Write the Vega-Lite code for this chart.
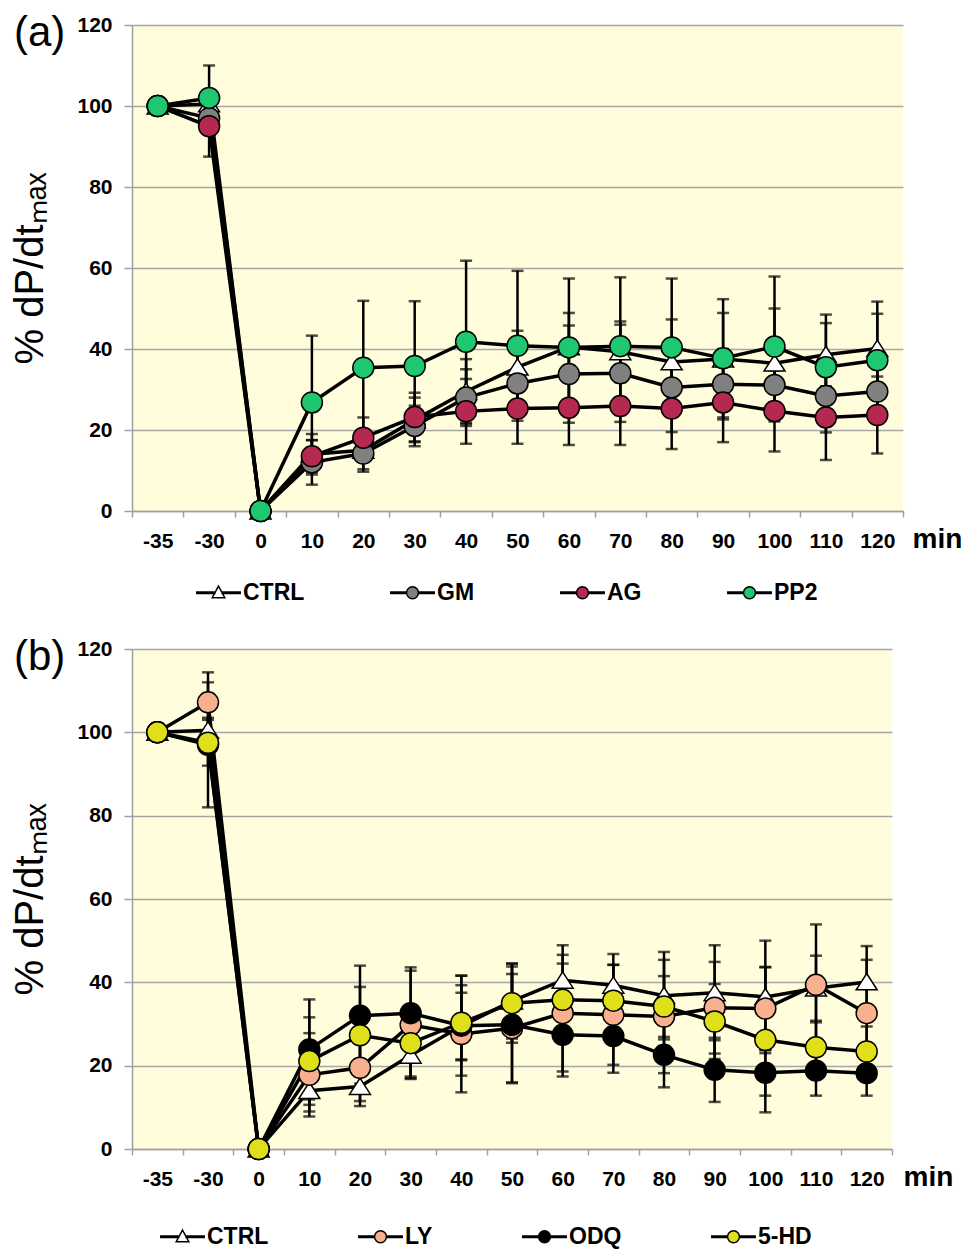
{
  "$schema": "https://vega.github.io/schema/vega-lite/v6.json",
  "padding": {"left": 10, "top": 12, "right": 0, "bottom": 0},
  "spacing": 31,
  "background": "white",
  "config": {
    "font": "Liberation Sans",
    "view": {"fill": "#FFFDDB", "stroke": null},
    "title": {"font": "Liberation Sans", "fontSize": 42, "fontWeight": "normal", "color": "black", "anchor": "start", "frame": "bounds", "baseline": "alphabetic", "offset": -41, "dx": 3},
    "legend": {"title": null, "orient": "none", "direction": "horizontal", "padding": 0, "symbolSize": 196, "labelOffset": 13, "labelFont": "Liberation Sans", "labelFontSize": 23, "labelFontWeight": "bold", "labelColor": "black", "symbolStrokeWidth": 1.5},
    "axisY": {"grid": true, "gridColor": "#a6a6a6", "gridWidth": 1.5, "domainColor": "#a0a0a0", "domainWidth": 1.5, "tickColor": "#a0a0a0", "tickSize": 8, "tickWidth": 1.5, "labelFont": "Liberation Sans", "labelFontSize": 21, "labelFontWeight": "bold", "labelColor": "black", "labelPadding": 12, "titleFont": "Liberation Sans", "titleFontSize": 40, "titleFontWeight": "normal", "titleColor": "black", "titlePadding": 26},
    "axisX": {"grid": false, "labelAngle": 0, "labelFont": "Liberation Sans", "labelFontSize": 21, "labelFontWeight": "bold", "labelColor": "black", "labelBaseline": "alphabetic", "labelPadding": 30, "tickBand": "extent", "tickColor": "#a0a0a0", "tickSize": 6, "tickWidth": 1.5, "domainColor": "#a0a0a0", "domainWidth": 1.5, "titleFont": "Liberation Sans", "titleFontSize": 28, "titleFontWeight": "bold", "titleColor": "black", "titleAngle": 0, "titleAlign": "center", "titleBaseline": "alphabetic", "titleY": 36}
  },
  "datasets": {
    "a": [
      {"s":"CTRL","t":-35,"v":100,"sd":0},{"s":"CTRL","t":-30,"v":100.5,"sd":3},{"s":"CTRL","t":0,"v":0,"sd":0},{"s":"CTRL","t":10,"v":14,"sd":5},{"s":"CTRL","t":20,"v":15,"sd":4.7},{"s":"CTRL","t":30,"v":22.5,"sd":5.5},{"s":"CTRL","t":40,"v":29.5,"sd":8},{"s":"CTRL","t":50,"v":35.5,"sd":9},{"s":"CTRL","t":60,"v":40.5,"sd":8.4},{"s":"CTRL","t":70,"v":39.3,"sd":7.5},{"s":"CTRL","t":80,"v":36.8,"sd":10.5},{"s":"CTRL","t":90,"v":37.5,"sd":11.4},{"s":"CTRL","t":100,"v":36.5,"sd":13.5},{"s":"CTRL","t":110,"v":38.6,"sd":7.8},{"s":"CTRL","t":120,"v":40.1,"sd":8.6},
      {"s":"GM","t":-35,"v":100,"sd":0},{"s":"GM","t":-30,"v":97,"sd":4},{"s":"GM","t":0,"v":0,"sd":0},{"s":"GM","t":10,"v":12,"sd":5.5},{"s":"GM","t":20,"v":14.2,"sd":4.5},{"s":"GM","t":30,"v":21,"sd":5},{"s":"GM","t":40,"v":28,"sd":7},{"s":"GM","t":50,"v":31.5,"sd":8},{"s":"GM","t":60,"v":33.8,"sd":12},{"s":"GM","t":70,"v":34,"sd":12},{"s":"GM","t":80,"v":30.5,"sd":11},{"s":"GM","t":90,"v":31.3,"sd":8.7},{"s":"GM","t":100,"v":31.1,"sd":9},{"s":"GM","t":110,"v":28.4,"sd":9},{"s":"GM","t":120,"v":29.5,"sd":7},
      {"s":"AG","t":-35,"v":100,"sd":0},{"s":"AG","t":-30,"v":95,"sd":7.5},{"s":"AG","t":0,"v":0,"sd":0},{"s":"AG","t":10,"v":13.5,"sd":4},{"s":"AG","t":20,"v":18.1,"sd":5},{"s":"AG","t":30,"v":23.2,"sd":6},{"s":"AG","t":40,"v":24.6,"sd":8},{"s":"AG","t":50,"v":25.3,"sd":8.7},{"s":"AG","t":60,"v":25.5,"sd":9.2},{"s":"AG","t":70,"v":25.9,"sd":9.6},{"s":"AG","t":80,"v":25.3,"sd":10},{"s":"AG","t":90,"v":26.8,"sd":9.8},{"s":"AG","t":100,"v":24.7,"sd":10},{"s":"AG","t":110,"v":23.1,"sd":10.5},{"s":"AG","t":120,"v":23.7,"sd":9.5},
      {"s":"PP2","t":-35,"v":100,"sd":0},{"s":"PP2","t":-30,"v":102,"sd":8},{"s":"PP2","t":0,"v":0,"sd":0},{"s":"PP2","t":10,"v":26.8,"sd":16.5},{"s":"PP2","t":20,"v":35.4,"sd":16.5},{"s":"PP2","t":30,"v":35.8,"sd":16},{"s":"PP2","t":40,"v":41.8,"sd":20},{"s":"PP2","t":50,"v":40.8,"sd":18.5},{"s":"PP2","t":60,"v":40.4,"sd":17},{"s":"PP2","t":70,"v":40.7,"sd":17},{"s":"PP2","t":80,"v":40.4,"sd":17},{"s":"PP2","t":90,"v":37.7,"sd":14.6},{"s":"PP2","t":100,"v":40.6,"sd":17.3},{"s":"PP2","t":110,"v":35.5,"sd":13},{"s":"PP2","t":120,"v":37.2,"sd":14.5}
    ],
    "b": [
      {"s":"CTRL","t":-35,"v":100,"sd":0},{"s":"CTRL","t":-30,"v":100.5,"sd":3},{"s":"CTRL","t":0,"v":0,"sd":0},{"s":"CTRL","t":10,"v":14,"sd":5},{"s":"CTRL","t":20,"v":15,"sd":4.7},{"s":"CTRL","t":30,"v":22.5,"sd":5.5},{"s":"CTRL","t":40,"v":29.5,"sd":8},{"s":"CTRL","t":50,"v":35.5,"sd":9},{"s":"CTRL","t":60,"v":40.5,"sd":8.4},{"s":"CTRL","t":70,"v":39.3,"sd":7.5},{"s":"CTRL","t":80,"v":36.8,"sd":10.5},{"s":"CTRL","t":90,"v":37.5,"sd":11.4},{"s":"CTRL","t":100,"v":36.5,"sd":13.5},{"s":"CTRL","t":110,"v":38.6,"sd":7.8},{"s":"CTRL","t":120,"v":40.1,"sd":8.6},
      {"s":"LY","t":-35,"v":100,"sd":0},{"s":"LY","t":-30,"v":107.2,"sd":7.2},{"s":"LY","t":0,"v":0,"sd":0},{"s":"LY","t":10,"v":17.8,"sd":10},{"s":"LY","t":20,"v":19.5,"sd":8},{"s":"LY","t":30,"v":29.8,"sd":13},{"s":"LY","t":40,"v":27.6,"sd":14},{"s":"LY","t":50,"v":29,"sd":13},{"s":"LY","t":60,"v":32.6,"sd":14},{"s":"LY","t":70,"v":32.2,"sd":12},{"s":"LY","t":80,"v":31.8,"sd":13.6},{"s":"LY","t":90,"v":33.9,"sd":11},{"s":"LY","t":100,"v":33.7,"sd":10},{"s":"LY","t":110,"v":39.4,"sd":14.5},{"s":"LY","t":120,"v":32.6,"sd":12.8},
      {"s":"ODQ","t":-35,"v":100,"sd":0},{"s":"ODQ","t":-30,"v":97,"sd":15},{"s":"ODQ","t":0,"v":0,"sd":0},{"s":"ODQ","t":10,"v":23.9,"sd":12},{"s":"ODQ","t":20,"v":32,"sd":12},{"s":"ODQ","t":30,"v":32.6,"sd":11},{"s":"ODQ","t":40,"v":29.6,"sd":12},{"s":"ODQ","t":50,"v":29.8,"sd":14},{"s":"ODQ","t":60,"v":27.4,"sd":10},{"s":"ODQ","t":70,"v":27.1,"sd":8.8},{"s":"ODQ","t":80,"v":22.6,"sd":7.8},{"s":"ODQ","t":90,"v":19,"sd":7.7},{"s":"ODQ","t":100,"v":18.3,"sd":5.5},{"s":"ODQ","t":110,"v":18.8,"sd":6},{"s":"ODQ","t":120,"v":18.2,"sd":5.4},
      {"s":"5-HD","t":-35,"v":100,"sd":0},{"s":"5-HD","t":-30,"v":97.5,"sd":5.5},{"s":"5-HD","t":0,"v":0,"sd":0},{"s":"5-HD","t":10,"v":21.1,"sd":10.5},{"s":"5-HD","t":20,"v":27.3,"sd":11.6},{"s":"5-HD","t":30,"v":25.4,"sd":8},{"s":"5-HD","t":40,"v":30.3,"sd":9},{"s":"5-HD","t":50,"v":35,"sd":9.5},{"s":"5-HD","t":60,"v":35.8,"sd":8.7},{"s":"5-HD","t":70,"v":35.6,"sd":8.6},{"s":"5-HD","t":80,"v":34.2,"sd":7.3},{"s":"5-HD","t":90,"v":30.6,"sd":9},{"s":"5-HD","t":100,"v":26.2,"sd":17.4},{"s":"5-HD","t":110,"v":24.4,"sd":6},{"s":"5-HD","t":120,"v":23.4,"sd":6}
    ]
  },
  "resolve": {"scale": {"x": "independent", "y": "independent", "fill": "independent", "shape": "independent"}, "legend": {"fill": "independent", "shape": "independent"}},
  "vconcat": [
    {
      "data": {"name": "a"},
      "width": 771,
      "height": 486,
      "title": {"text": "(a)"},
      "encoding": {
        "x": {"field": "t", "type": "ordinal", "scale": {"domain": [-35,-30,0,10,20,30,40,50,60,70,80,90,100,110,120], "paddingInner": 0, "paddingOuter": 0}, "axis": {"title": "min", "titleX": 805}},
        "y": {"field": "v", "type": "quantitative", "scale": {"domain": [0, 120]}, "axis": {"title": "% dP/dtₘₐₓ", "values": [0,20,40,60,80,100,120]}}
      },
      "resolve": {"scale": {"fill": "independent", "shape": "independent"}, "legend": {"fill": "independent", "shape": "independent"}},
      "layer": [
        {"mark": {"type": "errorbar", "color": "black", "ticks": {"size": 12, "thickness": 2.5, "color": "black"}, "rule": {"strokeWidth": 2.5, "color": "black"}}, "encoding": {"yError": {"field": "sd"}, "detail": {"field": "s"}}},
        {"mark": {"type": "line", "color": "black", "strokeWidth": 3.5}, "encoding": {"detail": {"field": "s"}}},
        {"mark": {"type": "point", "filled": true, "stroke": "black", "strokeWidth": 1.5, "size": 441, "opacity": 1},
         "encoding": {
           "fill": {"field": "s", "type": "nominal", "scale": {"domain": ["CTRL","GM","AG","PP2"], "range": ["#ffffff","#808080","#b5284f","#1fc770"]}, "legend": null},
           "shape": {"field": "s", "type": "nominal", "scale": {"domain": ["CTRL","GM","AG","PP2"], "range": ["M0,-0.8L1,0.75L-1,0.75Z","circle","circle","circle"]}, "legend": null}
         }},
        {"transform": [{"filter": "false"}],
         "mark": {"type": "point", "filled": true, "stroke": "black", "strokeWidth": 1.5, "opacity": 1},
         "encoding": {
           "fill": {"field": "s", "type": "nominal", "scale": {"domain": ["CTRL","GM","AG","PP2"], "range": ["#ffffff","#808080","#b5284f","#1fc770"]},
             "legend": {"title": null, "orient": "none", "legendX": 75, "legendY": 556, "direction": "horizontal", "padding": 0, "columnPadding": 82, "symbolSize": 196, "labelOffset": 13, "labelFont": "Liberation Sans", "labelFontSize": 23, "labelFontWeight": "bold", "labelColor": "black", "symbolStrokeWidth": 1.5}},
           "shape": {"field": "s", "type": "nominal", "scale": {"domain": ["CTRL","GM","AG","PP2"], "range": [
             "M0,-0.95L0.9,0.7L-0.9,0.7Z M-3.1,-0.1L-0.52,-0.1L-0.52,0.1L-3.1,0.1Z M0.52,-0.1L3.1,-0.1L3.1,0.1L0.52,0.1Z",
             "M-0.85,0A0.85,0.85,0,1,1,0.85,0A0.85,0.85,0,1,1,-0.85,0Z M-3.1,-0.1L-0.85,-0.1L-0.85,0.1L-3.1,0.1Z M0.85,-0.1L3.1,-0.1L3.1,0.1L0.85,0.1Z",
             "M-0.85,0A0.85,0.85,0,1,1,0.85,0A0.85,0.85,0,1,1,-0.85,0Z M-3.1,-0.1L-0.85,-0.1L-0.85,0.1L-3.1,0.1Z M0.85,-0.1L3.1,-0.1L3.1,0.1L0.85,0.1Z",
             "M-0.85,0A0.85,0.85,0,1,1,0.85,0A0.85,0.85,0,1,1,-0.85,0Z M-3.1,-0.1L-0.85,-0.1L-0.85,0.1L-3.1,0.1Z M0.85,-0.1L3.1,-0.1L3.1,0.1L0.85,0.1Z"]}}
         }}
      ]
    },
    {
      "data": {"name": "b"},
      "width": 760,
      "height": 500,
      "title": {"text": "(b)"},
      "encoding": {
        "x": {"field": "t", "type": "ordinal", "scale": {"domain": [-35,-30,0,10,20,30,40,50,60,70,80,90,100,110,120], "paddingInner": 0, "paddingOuter": 0}, "axis": {"title": "min", "titleX": 796}},
        "y": {"field": "v", "type": "quantitative", "scale": {"domain": [0, 120]}, "axis": {"title": "% dP/dtₘₐₓ", "values": [0,20,40,60,80,100,120]}}
      },
      "resolve": {"scale": {"fill": "independent", "shape": "independent"}, "legend": {"fill": "independent", "shape": "independent"}},
      "layer": [
        {"mark": {"type": "errorbar", "color": "black", "ticks": {"size": 12, "thickness": 2.5, "color": "black"}, "rule": {"strokeWidth": 2.5, "color": "black"}}, "encoding": {"yError": {"field": "sd"}, "detail": {"field": "s"}}},
        {"mark": {"type": "line", "color": "black", "strokeWidth": 3.5}, "encoding": {"detail": {"field": "s"}}},
        {"mark": {"type": "point", "filled": true, "stroke": "black", "strokeWidth": 1.5, "size": 441, "opacity": 1},
         "encoding": {
           "fill": {"field": "s", "type": "nominal", "scale": {"domain": ["CTRL","LY","ODQ","5-HD"], "range": ["#ffffff","#f8b08f","#000000","#e0e01a"]}, "legend": null},
           "shape": {"field": "s", "type": "nominal", "scale": {"domain": ["CTRL","LY","ODQ","5-HD"], "range": ["M0,-0.8L1,0.75L-1,0.75Z","circle","circle","circle"]}, "legend": null}
         }},
        {"transform": [{"filter": "false"}],
         "mark": {"type": "point", "filled": true, "stroke": "black", "strokeWidth": 1.5, "opacity": 1},
         "encoding": {
           "fill": {"field": "s", "type": "nominal", "scale": {"domain": ["CTRL","LY","ODQ","5-HD"], "range": ["#ffffff","#f8b08f","#000000","#e0e01a"]},
             "legend": {"title": null, "orient": "none", "legendX": 39, "legendY": 576, "direction": "horizontal", "padding": 0, "columnPadding": 86, "symbolSize": 196, "labelOffset": 13, "labelFont": "Liberation Sans", "labelFontSize": 23, "labelFontWeight": "bold", "labelColor": "black", "symbolStrokeWidth": 1.5}},
           "shape": {"field": "s", "type": "nominal", "scale": {"domain": ["CTRL","LY","ODQ","5-HD"], "range": [
             "M0,-0.95L0.9,0.7L-0.9,0.7Z M-3.1,-0.1L-0.52,-0.1L-0.52,0.1L-3.1,0.1Z M0.52,-0.1L3.1,-0.1L3.1,0.1L0.52,0.1Z",
             "M-0.85,0A0.85,0.85,0,1,1,0.85,0A0.85,0.85,0,1,1,-0.85,0Z M-3.1,-0.1L-0.85,-0.1L-0.85,0.1L-3.1,0.1Z M0.85,-0.1L3.1,-0.1L3.1,0.1L0.85,0.1Z",
             "M-0.85,0A0.85,0.85,0,1,1,0.85,0A0.85,0.85,0,1,1,-0.85,0Z M-3.1,-0.1L-0.85,-0.1L-0.85,0.1L-3.1,0.1Z M0.85,-0.1L3.1,-0.1L3.1,0.1L0.85,0.1Z",
             "M-0.85,0A0.85,0.85,0,1,1,0.85,0A0.85,0.85,0,1,1,-0.85,0Z M-3.1,-0.1L-0.85,-0.1L-0.85,0.1L-3.1,0.1Z M0.85,-0.1L3.1,-0.1L3.1,0.1L0.85,0.1Z"]}}
         }}
      ]
    }
  ]
}
